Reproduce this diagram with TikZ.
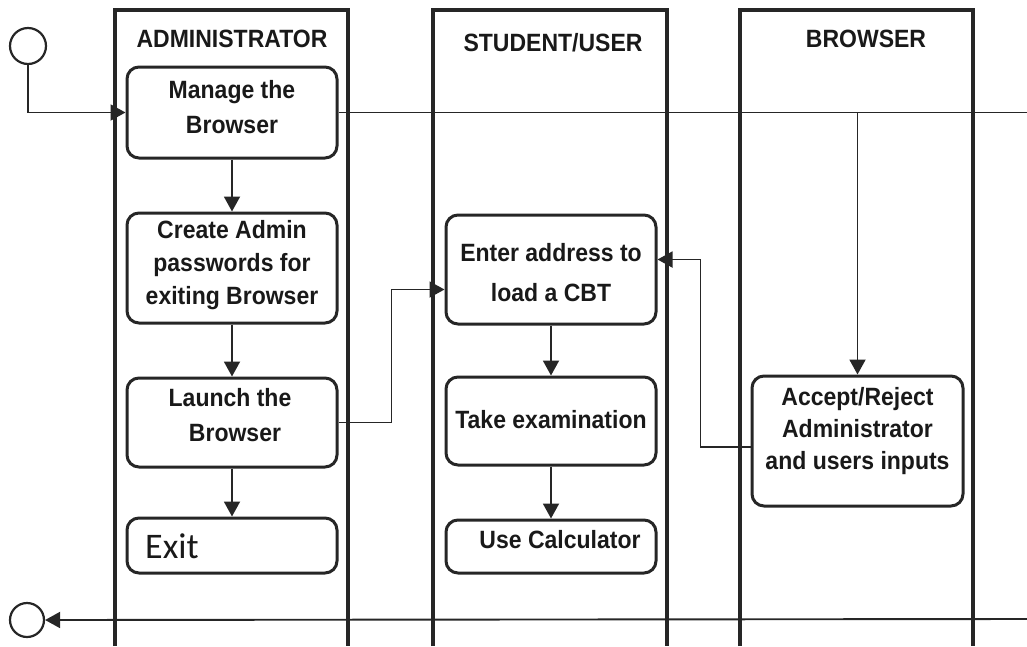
\documentclass[tikz,border=0pt]{standalone}
\usepackage{fontspec}
\usetikzlibrary{arrows.meta,calc}
\newfontfamily\lblfont{Liberation Sans}[FakeStretch=0.92]
\newfontfamily\exitfont{Carlito}
\begin{document}
\begin{tikzpicture}[x=1pt,y=-1pt,
  lane/.style={line width=3.3pt,draw=black!85},
  actbox/.style={draw=black!85,line width=3pt,rounded corners=12pt,minimum width=210pt,inner sep=0pt},
  lbl/.style={font=\lblfont\bfseries\fontsize{25}{33}\selectfont,align=center,inner sep=0pt,text=black!90},
  ttl/.style={font=\lblfont\bfseries\fontsize{25}{30}\selectfont,inner sep=0pt,anchor=base,text=black!90},
  conn/.style={line width=1.9pt,draw=black!85},
  arr/.style={conn,-{Triangle[width=16pt,length=15pt]}},
  term/.style={circle,draw=black!85,line width=2.2pt,inner sep=0pt}
]
\useasboundingbox (0,0) rectangle (1027,646);
% swimlanes
\draw[lane] (115,646) |- (348,10) -- (348,646);
\draw[lane] (433,646) |- (667,10) -- (667,646);
\draw[lane] (740,646) |- (973,10) -- (973,646);
\node[ttl] (tadm) at (232,47) {ADMINISTRATOR};
\node[ttl] (tstu) at (553,51) {STUDENT/USER};
\node[ttl] (tbro) at (866,47) {BROWSER};
% terminals
\node[term,minimum size=36pt] (start) at (28,46) {};
\node[term,minimum size=34pt] (end) at (27,620) {};
% activity boxes
\node[actbox,minimum height=91pt] (manage) at (232,112.5) {};
\node[actbox,minimum height=110pt] (create) at (232,268) {};
\node[actbox,minimum height=89pt] (launch) at (232,422.5) {};
\node[actbox,minimum height=55pt] (exit) at (232,545.5) {};
\node[actbox,minimum height=109pt] (enter) at (551,269.5) {};
\node[actbox,minimum height=88pt] (take) at (551,421) {};
\node[actbox,minimum height=53pt] (calc) at (551,546.5) {};
\node[actbox,minimum width=211pt,minimum height=130pt] (accept) at (857.5,441) {};
% texts
\node[lbl,font=\lblfont\bfseries\fontsize{25}{35}\selectfont] (xmanage) at (232,107.5) {Manage the\\Browser};
\node[lbl] (xcreate) at (232,265) {Create Admin\\passwords for\\exiting Browser};
\node[lbl,font=\lblfont\bfseries\fontsize{25}{35}\selectfont] (xlaunch) at (230,415.5) {Launch the\\\hspace*{10pt}Browser};
\node[font=\exitfont\fontsize{36}{40}\selectfont,anchor=base west,inner sep=0pt,text=black!90] (xexit) at (145,558) {Exit};
\node[lbl,font=\lblfont\bfseries\fontsize{25}{40}\selectfont] (xenter) at (551,273) {Enter address to\\load a CBT};
\node[lbl] (xtake) at (551,420) {Take examination};
\node[lbl] (xcalc) at (560,540) {Use Calculator};
\node[lbl,font=\lblfont\bfseries\fontsize{25}{32}\selectfont] (xaccept) at (857.5,431) {Accept/Reject\\Administrator\\and users inputs};
% connectors
\coordinate (rtop) at (1027,112.5);
\coordinate (rbot) at (1027,619);
\draw[arr] (start.south) |- (manage.west);
\draw[conn] (manage.east) -- (rtop);
\draw[arr] (accept.north |- manage.east) -- (accept.north);
\draw[arr] (manage.south) -- (create.north);
\draw[arr] (create.south) -- (launch.north);
\draw[arr] (launch.south) -- (exit.north);
\draw[arr] (enter.south) -- (take.north);
\draw[arr] (take.south) -- (calc.north);
\draw[arr] (launch.east) -- ++(53,0) |- ([yshift=-20pt]enter.west);
\draw[arr] ([yshift=-6pt]accept.west) -- ++(-50,0) |- ([yshift=10pt]enter.east);
\draw[arr] (rbot) -- (end.east);
\end{tikzpicture}
\end{document}
